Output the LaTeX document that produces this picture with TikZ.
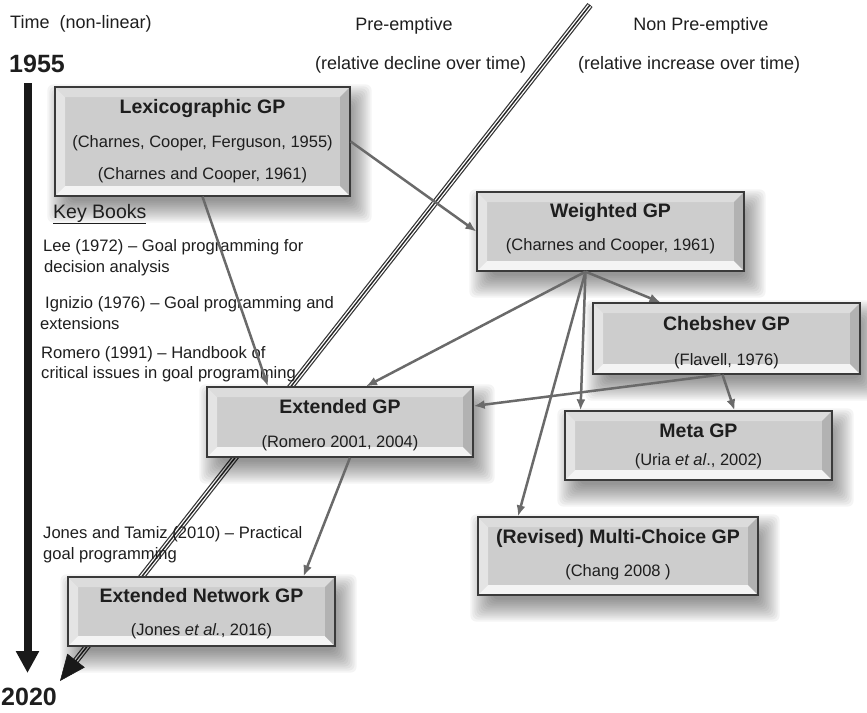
\documentclass[tikz,border=0pt]{standalone}
\usepackage{fontspec}
\setmainfont{Liberation Sans}
\usetikzlibrary{arrows.meta,calc}
\pgfdeclarelayer{bg}
\pgfsetlayers{bg,main}
\definecolor{txt}{HTML}{1E1E1E}
\definecolor{boxmid}{HTML}{CDCDCD}
\definecolor{boxline}{HTML}{3A3A3A}
\definecolor{bevtop}{HTML}{DCDCDC}
\definecolor{bevleft}{HTML}{E4E4E4}
\definecolor{bevbot}{HTML}{F4F4F4}
\definecolor{bevright}{HTML}{B2B2B2}
\definecolor{arr}{HTML}{6A6A6A}
\newcommand\hdfnt{\fontsize{18}{21}\selectfont}
\newcommand\bkfnt{\fontsize{16.6}{20}\selectfont}
\newcommand\keyfnt{\fontsize{19.5}{23}\selectfont}
\newcommand\ttlfnt{\fontsize{19.5}{23}\selectfont\bfseries}
\newcommand\subfnt{\fontsize{16.5}{20}\selectfont}
\newcommand\yrfnt{\fontsize{25}{30}\selectfont\bfseries}
\tikzset{
  bev/.style={draw=boxline, line width=1.3pt, fill=boxmid, inner sep=0pt,
    path picture={
      \fill[bevtop] (path picture bounding box.north west) -- (path picture bounding box.north east)
        -- ([shift={(-10pt,-10pt)}]path picture bounding box.north east) -- ([shift={(10pt,-10pt)}]path picture bounding box.north west) -- cycle;
      \fill[bevleft] (path picture bounding box.north west) -- (path picture bounding box.south west)
        -- ([shift={(10pt,10pt)}]path picture bounding box.south west) -- ([shift={(10pt,-10pt)}]path picture bounding box.north west) -- cycle;
      \fill[bevbot] (path picture bounding box.south west) -- (path picture bounding box.south east)
        -- ([shift={(-10pt,10pt)}]path picture bounding box.south east) -- ([shift={(10pt,10pt)}]path picture bounding box.south west) -- cycle;
      \fill[bevright] (path picture bounding box.north east) -- (path picture bounding box.south east)
        -- ([shift={(-10pt,10pt)}]path picture bounding box.south east) -- ([shift={(-10pt,-10pt)}]path picture bounding box.north east) -- cycle;
    }},
  lbl/.style={anchor=base, inner sep=0pt, text=txt},
  lblw/.style={anchor=base west, inner sep=0pt, text=txt},
  conn/.style={draw=arr, line width=2.5pt, -{Latex[length=11pt,width=9pt]}},
  shadowlayer/.style={fill=black, opacity=0.045, rounded corners=6pt},
}
\begin{document}
\begin{tikzpicture}[x=1pt,y=-1pt]
\useasboundingbox (0,0) rectangle (867,712);
% header texts
\node[lblw, font=\hdfnt] (time) at (10,28) {Time~~(non-linear)};
\node[lbl, font=\hdfnt] (pre) at (404,30) {Pre-emptive};
\node[lblw, font=\hdfnt] (pred) at (315,69) {(relative decline over time)};
\node[lbl, font=\hdfnt] (npre) at (701,30) {Non Pre-emptive};
\node[lblw, font=\hdfnt] (npred) at (578,69) {(relative increase over time)};
\node[lblw, font=\yrfnt] (y1955) at (9,72) {1955};
\node[lblw, font=\yrfnt] (y2020) at (1,705) {2020};
% time axis
\coordinate (tA) at (27.5,83);
\coordinate (tB) at (27.5,673);
\draw[line width=8pt, black!90, -{Triangle[length=22pt,width=22pt]}] (tA) -- (tB);
% diagonal divider
\coordinate (dA) at (590,5);
\coordinate (dB) at (60,681);
\begin{pgfonlayer}{bg}
\draw[line width=6.5pt, black!78, shorten >=20pt] (dA) -- (dB);
\draw[line width=4pt, white, shorten >=20pt, shorten <=0.8pt] (dA) -- (dB);
\draw[line width=1.4pt, black!85, shorten >=20pt] (dA) -- (dB);
\end{pgfonlayer}
\draw[line width=0.5pt, black!90, -{Triangle[length=26pt,width=22pt]}] ($(dB)!30pt!(dA)$) -- (dB);
% key books
\node[lblw, font=\keyfnt] (kb) at (53,218) {\underline{Key Books}};
\node[lblw, font=\bkfnt] (b1a) at (43,251) {Lee (1972) – Goal programming for};
\node[lblw, font=\bkfnt] (b1b) at (44,272) {decision analysis};
\node[lblw, font=\bkfnt] (b2a) at (45,308) {Ignizio (1976) – Goal programming and};
\node[lblw, font=\bkfnt] (b2b) at (40,329) {extensions};
\node[lblw, font=\bkfnt] (b3a) at (41,358) {Romero (1991) – Handbook of};
\node[lblw, font=\bkfnt] (b3b) at (41,378) {critical issues in goal programming};
\node[lblw, font=\bkfnt] (b4a) at (43,538) {Jones and Tamiz (2010) – Practical};
\node[lblw, font=\bkfnt] (b4b) at (43,559) {goal programming};
% boxes
\node[bev, minimum width=295pt, minimum height=109pt] (lex) at (202.5,141.5) {};
\node[bev, minimum width=267pt, minimum height=79pt] (wgp) at (610.5,231.5) {};
\node[bev, minimum width=267pt, minimum height=71pt] (cheb) at (726.5,338.5) {};
\node[bev, minimum width=267pt, minimum height=69pt] (meta) at (698.5,445.5) {};
\node[bev, minimum width=266pt, minimum height=70pt] (ext) at (340,422) {};
\node[bev, minimum width=280pt, minimum height=78pt] (mc) at (618,556) {};
\node[bev, minimum width=267pt, minimum height=69pt] (enet) at (201.5,611.5) {};
% soft shadows
\begin{pgfonlayer}{bg}
\foreach \b in {lex,wgp,cheb,meta,ext,mc,enet}{
  \foreach \e in {-8,-6,...,14}{
    \pgfmathsetmacro\axa{7-\e}
    \pgfmathsetmacro\aya{-12+\e}
    \pgfmathsetmacro\axb{7+\e}
    \pgfmathsetmacro\ayb{-12-\e}
    \fill[shadowlayer] ([shift={(\axa pt,\aya pt)}]\b.north west) rectangle ([shift={(\axb pt,\ayb pt)}]\b.south east);
  }
}
\end{pgfonlayer}
% connectors
\coordinate (hub) at ([xshift=-25pt]wgp.south);
\draw[conn] (lex.east) -- (wgp.west);
\draw[conn] (lex.south) -- ([xshift=-72pt]ext.north);
\draw[conn] (hub) -- ([xshift=-66pt]cheb.north);
\draw[conn] (hub) -- ([xshift=26pt]ext.north);
\draw[conn] (hub) -- ([xshift=-118pt]meta.north);
\draw[conn] (hub) -- ([xshift=-100pt]mc.north);
\draw[conn] ([xshift=-6pt]cheb.south) -- ([yshift=16pt]ext.east);
\draw[conn] ([xshift=-4pt]cheb.south) -- ([xshift=36pt]meta.north);
\draw[conn] ([xshift=10pt]ext.south) -- ([xshift=102pt]enet.north);
% box texts
\node[lbl, font=\ttlfnt] (lexT) at (202.5,113) {Lexicographic GP};
\node[lbl, font=\subfnt] (lexS) at (202.5,147) {(Charnes, Cooper, Ferguson, 1955)};
\node[lbl, font=\subfnt] (lexS2) at (202.5,179) {(Charnes and Cooper, 1961)};
\node[lbl, font=\ttlfnt] (wgpT) at (610.5,217) {Weighted GP};
\node[lbl, font=\subfnt] (wgpS) at (610.5,250) {(Charnes and Cooper, 1961)};
\node[lbl, font=\ttlfnt] (chebT) at (726.5,330) {Chebshev GP};
\node[lbl, font=\subfnt] (chebS) at (726.5,365) {(Flavell, 1976)};
\node[lbl, font=\ttlfnt] (metaT) at (698.5,437) {Meta GP};
\node[lbl, font=\subfnt] (metaS) at (698.5,465) {(Uria \textit{et al}., 2002)};
\node[lbl, font=\ttlfnt] (extT) at (340,413) {Extended GP};
\node[lbl, font=\subfnt] (extS) at (340,447) {(Romero 2001, 2004)};
\node[lbl, font=\ttlfnt] (mcT) at (618,543) {(Revised) Multi-Choice GP};
\node[lbl, font=\subfnt] (mcS) at (618,576) {(Chang 2008 )};
\node[lbl, font=\ttlfnt] (enetT) at (201.5,602) {Extended Network GP};
\node[lbl, font=\subfnt] (enetS) at (201.5,635) {(Jones \textit{et al.}, 2016)};
\end{tikzpicture}
\end{document}
